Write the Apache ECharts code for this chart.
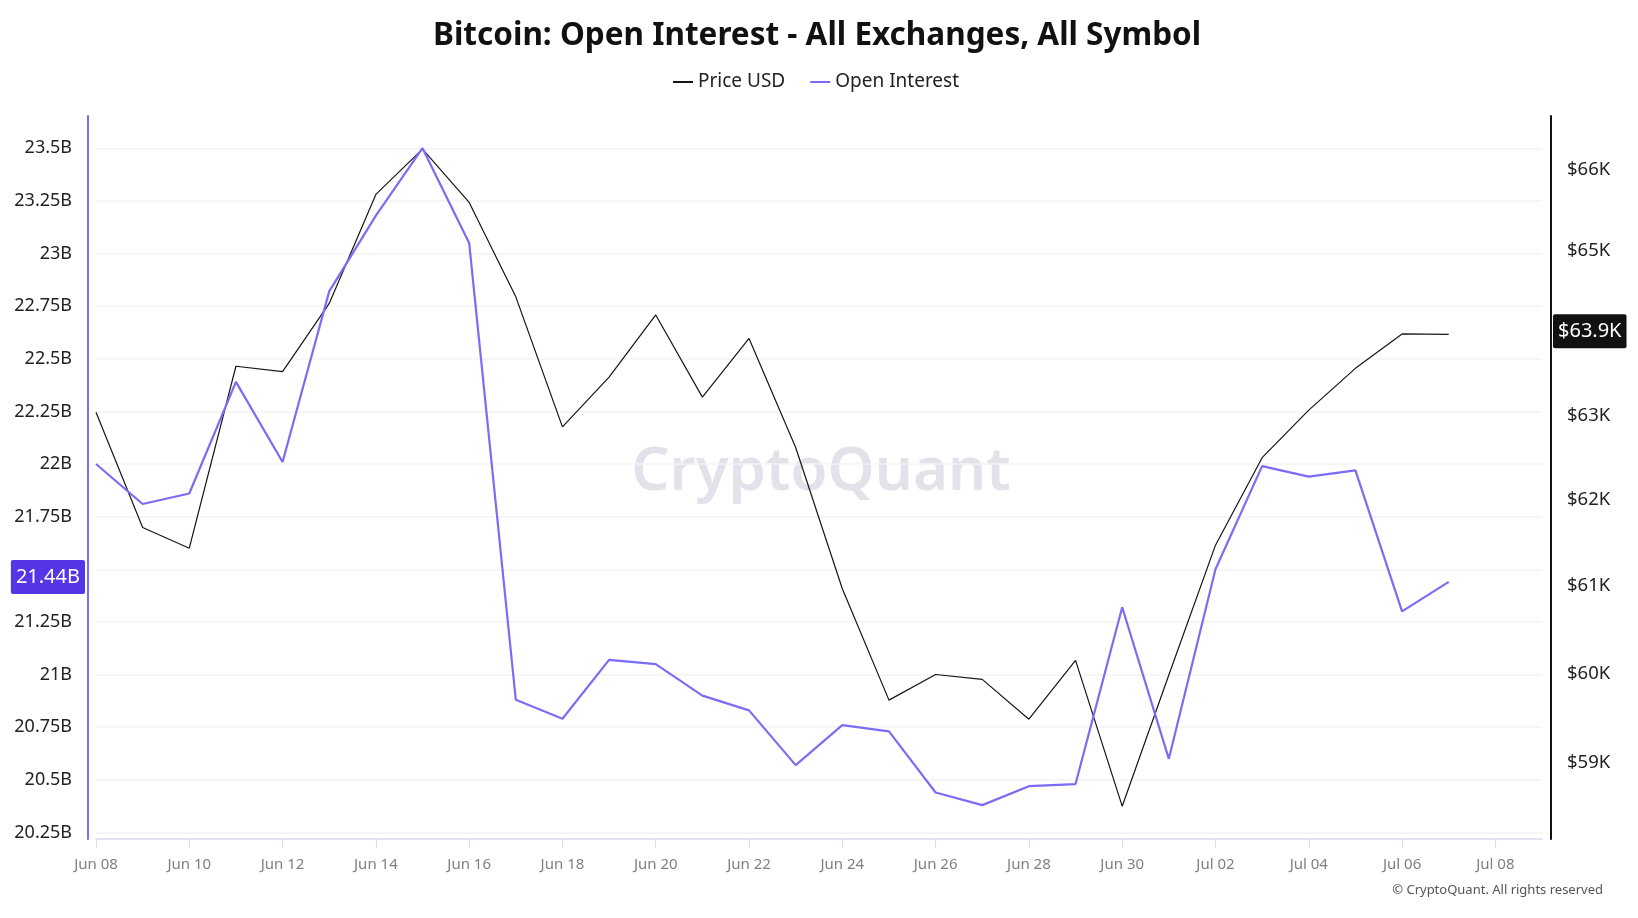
<!DOCTYPE html>
<html>
<head>
<meta charset="utf-8">
<script src="https://cdn.jsdelivr.net/npm/echarts@6.0.0/dist/echarts.min.js"></script>
<style>
  html, body { margin: 0; padding: 0; background: #ffffff; }
  #chart { width: 1638px; height: 918px; }
</style>
</head>
<body>
<div id="chart"></div>
<script>
// ---- Data ----
const dateLabels = [
  'Jun 08','Jun 09','Jun 10','Jun 11','Jun 12','Jun 13','Jun 14','Jun 15','Jun 16','Jun 17',
  'Jun 18','Jun 19','Jun 20','Jun 21','Jun 22','Jun 23','Jun 24','Jun 25','Jun 26','Jun 27',
  'Jun 28','Jun 29','Jun 30','Jul 01','Jul 02','Jul 03','Jul 04','Jul 05','Jul 06','Jul 07',
  'Jul 08','Jul 09'
];
// Open Interest, billions USD
const openInterest = [
  22.00, 21.81, 21.86, 22.39, 22.01, 22.82, 23.18, 23.50, 23.05, 20.88,
  20.79, 21.07, 21.05, 20.90, 20.83, 20.57, 20.76, 20.73, 20.44, 20.38,
  20.47, 20.48, 21.32, 20.60, 21.50, 21.99, 21.94, 21.97, 21.30, 21.44
];
// BTC price, USD
const priceUSD = [
  63040, 61680, 61440, 63590, 63525, 64350, 65690, 66255, 65590, 64430,
  62865, 63460, 64210, 63220, 63925, 62620, 60970, 59700, 59990, 59935,
  59485, 60150, 58515, 59985, 61475, 62500, 63065, 63565, 63980, 63975
];
// Tick labels
const oiTicks = { min: 20.25, max: 23.5, step: 0.25 };
const priceTicks = [59000, 60000, 61000, 62000, 63000, 64000, 65000, 66000];

const FONT = 'Noto Sans';
const OI_COLOR = '#7b6cf6';
const PRICE_COLOR = '#151515';

const chart = echarts.init(document.getElementById('chart'), null, { renderer: 'canvas' });

const oiLast = openInterest[openInterest.length - 1];
const priceLast = priceUSD[priceUSD.length - 1];

const option = {
  backgroundColor: '#ffffff',
  animation: false,
  textStyle: { fontFamily: FONT },
  title: {
    text: 'Bitcoin: Open Interest - All Exchanges, All Symbol',
    left: 428,
    top: 15,
    textStyle: { fontFamily: FONT, fontSize: 31.5, fontWeight: 'bold', color: '#111111' }
  },
  legend: {
    top: 66,
    left: 668,
    itemGap: 25,
    itemWidth: 20,
    itemHeight: 2,
    icon: 'rect',
    textStyle: { fontFamily: FONT, fontSize: 19, color: '#222222', lineHeight: 22 },
    data: [
      { name: 'Price USD', itemStyle: { color: PRICE_COLOR } },
      { name: 'Open Interest', itemStyle: { color: OI_COLOR } }
    ]
  },
  graphic: [
    {
      type: 'text',
      x: 821, y: 473,
      z: 0,
      silent: true,
      style: {
        text: 'CryptoQuant',
        fontFamily: FONT,
        fontSize: 60,
        fontWeight: 600,
        fill: '#e3e2eb',
        align: 'center',
        verticalAlign: 'middle'
      }
    },
    {
      type: 'text',
      right: 35,
      top: 884,
      silent: true,
      style: {
        text: '\u00A9 CryptoQuant. All rights reserved',
        fontFamily: FONT,
        fontSize: 13,
        fill: '#555555'
      }
    }
  ],
  grid: [
    { left: 96, right: 96, top: 116, bottom: 79, containLabel: false, outerBoundsMode: 'none' },
    { left: 96, right: 96, top: 148.3, bottom: 85.5, containLabel: false, outerBoundsMode: 'none' }
  ],
  xAxis: [
    {
      type: 'category',
      gridIndex: 0,
      data: dateLabels,
      boundaryGap: false,
      axisLine: { show: true, lineStyle: { color: '#dcd9ee', width: 1.5 } },
      axisTick: { show: true, interval: 1, length: 9, lineStyle: { color: '#dcd9ee', width: 1 } },
      axisLabel: { interval: 1, color: '#7f7f7f', fontSize: 15, margin: 18, fontFamily: FONT },
      splitLine: { show: false }
    },
    {
      type: 'category',
      gridIndex: 1,
      data: dateLabels,
      boundaryGap: false,
      show: false
    }
  ],
  yAxis: [
    {
      // scale of the Open Interest line (left)
      type: 'value',
      gridIndex: 0,
      position: 'left',
      offset: 8,
      min: 20.2191,
      max: 23.653,
      axisLine: { show: true, lineStyle: { color: OI_COLOR, width: 2 } },
      axisTick: { show: false },
      axisLabel: { show: false },
      splitLine: { show: false }
    },
    {
      // scale of the price line (right, logarithmic)
      type: 'log',
      logBase: 10,
      gridIndex: 0,
      position: 'right',
      offset: 9,
      min: 58153,
      max: 66671,
      axisLine: { show: true, lineStyle: { color: '#111111', width: 2 } },
      axisTick: { show: false },
      minorTick: { show: false },
      splitLine: { show: false },
      minorSplitLine: { show: false },
      axisLabel: {
        customValues: priceTicks,
        color: '#222222',
        fontSize: 18.5,
        margin: 16,
        fontFamily: FONT,
        formatter: v => '$' + Math.round(v / 1000) + 'K'
      }
    },
    {
      // tick labels and grid lines of the left axis
      type: 'value',
      gridIndex: 1,
      position: 'left',
      min: oiTicks.min,
      max: oiTicks.max,
      interval: oiTicks.step,
      axisLine: { show: false },
      axisTick: { show: false },
      axisLabel: {
        color: '#222222',
        fontSize: 18,
        margin: 24,
        fontFamily: FONT,
        formatter: v => (+v.toFixed(2)) + 'B'
      },
      splitLine: { show: true, lineStyle: { color: '#f3f3f5', width: 1.5 } }
    }
  ],
  series: [
    {
      name: 'Price USD',
      type: 'line',
      xAxisIndex: 0,
      yAxisIndex: 1,
      data: priceUSD,
      showSymbol: false,
      symbol: 'none',
      clip: false,
      color: PRICE_COLOR,
      lineStyle: { color: PRICE_COLOR, width: 1.2 },
      z: 3,
      markLine: {
        silent: true,
        symbol: ['none', 'none'],
        lineStyle: { color: 'rgba(0,0,0,0)', width: 0, opacity: 1 },
        label: {
          show: true,
          opacity: 1,
          position: 'end',
          distance: 11,
          offset: [0, -3],
          formatter: p => '$' + (Math.floor(p.value / 100) / 10).toFixed(1) + 'K',
          backgroundColor: '#111111',
          color: '#ffffff',
          fontSize: 20,
          lineHeight: 22,
          fontFamily: FONT,
          padding: [6, 5, 6, 5],
          borderRadius: 2
        },
        data: [{ yAxis: priceLast }]
      }
    },
    {
      name: 'Open Interest',
      type: 'line',
      xAxisIndex: 0,
      yAxisIndex: 0,
      data: openInterest,
      showSymbol: false,
      symbol: 'none',
      clip: false,
      color: OI_COLOR,
      lineStyle: { color: OI_COLOR, width: 2.2 },
      z: 4,
      markLine: {
        silent: true,
        symbol: ['none', 'none'],
        lineStyle: { color: 'rgba(0,0,0,0)', width: 0, opacity: 1 },
        label: {
          show: true,
          opacity: 1,
          position: 'start',
          distance: 11,
          offset: [0, -5],
          formatter: p => (Math.floor(p.value * 100 + 1e-6) / 100).toFixed(2) + 'B',
          backgroundColor: '#5535e6',
          color: '#ffffff',
          fontSize: 20,
          lineHeight: 22,
          fontFamily: FONT,
          padding: [6, 5, 6, 5],
          borderRadius: 2
        },
        data: [{ yAxis: oiLast }]
      }
    }
  ]
};

chart.setOption(option);
</script>
</body>
</html>
